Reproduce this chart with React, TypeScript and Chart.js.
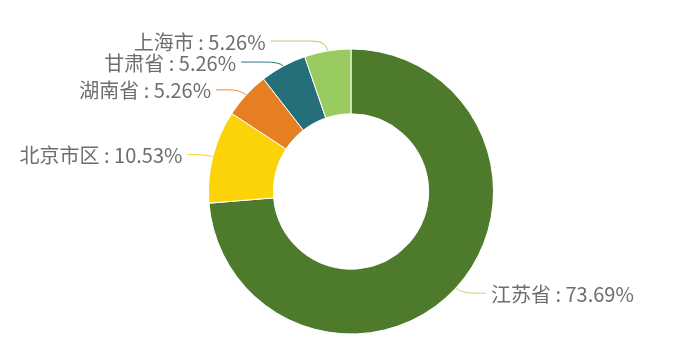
import { useEffect, useRef } from "react";
import { Chart, registerables } from "chart.js";

Chart.register(...registerables);

// Share of records by region (percent)
const regions = ["江苏省", "北京市区", "湖南省", "甘肃省", "上海市"];
const shares = [73.69, 10.53, 5.26, 5.26, 5.26];
const sliceColors = ["#4e7a2c", "#fcd309", "#e67e22", "#246f7a", "#9acb61"];
const leaderColors = ["#c3d77a", "#f6cf2a", "#e9893a", "#2f7682", "#a6d171"];

const LABEL_FONT = '20px "Noto Sans CJK SC", "Noto Sans", sans-serif';
const LABEL_COLOR = "#6e6e6e";

// Draws outside labels with bent leader lines.
const leaderLabels = {
  id: "leaderLabels",
  afterDatasetsDraw(chart: any) {
    const ctx: CanvasRenderingContext2D = chart.ctx;
    const meta = chart.getDatasetMeta(0);
    const items = meta.data.map((arc: any, i: number) => {
      const p = arc.getProps(["x", "y", "startAngle", "endAngle", "outerRadius"], true);
      const mid = (p.startAngle + p.endAngle) / 2;
      const cos = Math.cos(mid);
      const sin = Math.sin(mid);
      const r = p.outerRadius + 0.5;
      return {
        i,
        cx: p.x,
        cy: p.y,
        r,
        cos,
        sin,
        dir: cos >= 0 ? 1 : -1,
        y: p.y + (r + 7) * sin,
      };
    });

    // keep labels on each side from overlapping
    const gap = 21;
    [1, -1].forEach((side) => {
      const list = items.filter((it: any) => it.dir === side).sort((a: any, b: any) => a.y - b.y);
      for (let pass = 0; pass < 20; pass++) {
        for (let k = 1; k < list.length; k++) {
          const diff = list[k].y - list[k - 1].y;
          if (diff < gap) {
            const d = (gap - diff) / 2;
            list[k - 1].y -= d;
            list[k].y += d;
          }
        }
      }
    });

    ctx.save();
    ctx.font = LABEL_FONT;
    ctx.textBaseline = "middle";
    items.forEach((it: any) => {
      const { cx, cy, r, cos, sin, dir } = it;
      // label line ends sit on an ellipse around the ring
      const ea = r + 24.5;
      const eb = r + 28.5;
      const dy = it.y - cy;
      const p0x = cx + r * cos;
      const p0y = cy + r * sin;
      const ex = cx + (r + 8) * cos;
      let endX = cx + dir * ea * Math.sqrt(Math.max(1 - (dy * dy) / (eb * eb), 0));
      if (dir * (endX - ex) < 16) endX = ex + dir * 16;
      const tx = ex + dir * Math.min(14, Math.abs(endX - ex) / 2);

      ctx.beginPath();
      ctx.moveTo(p0x, p0y);
      ctx.quadraticCurveTo(ex, it.y, tx, it.y);
      ctx.lineTo(endX, it.y);
      ctx.strokeStyle = leaderColors[it.i];
      ctx.lineWidth = 1;
      ctx.stroke();

      ctx.fillStyle = LABEL_COLOR;
      ctx.textAlign = dir > 0 ? "left" : "right";
      ctx.fillText(`${regions[it.i]} : ${shares[it.i].toFixed(2)}%`, endX + dir * 5, it.y + 1);
    });
    ctx.restore();
  },
};

export default function App() {
  const canvasRef = useRef<HTMLCanvasElement>(null);

  useEffect(() => {
    if (!canvasRef.current) return;
    const chart = new Chart(canvasRef.current, {
      type: "doughnut",
      data: {
        labels: regions,
        datasets: [
          {
            data: shares,
            backgroundColor: sliceColors,
            borderColor: "#ffffff",
            borderWidth: 1,
          },
        ],
      },
      options: {
        animation: false,
        responsive: true,
        maintainAspectRatio: false,
        cutout: "54.5%",
        layout: { padding: { top: 40.5, bottom: 17.5, left: 3, right: 0 } },
        plugins: {
          legend: { display: false },
          tooltip: { enabled: false },
        },
      },
      plugins: [leaderLabels],
    });
    return () => chart.destroy();
  }, []);

  return (
    <div style={{ width: 683, height: 344, position: "relative" }}>
      <canvas ref={canvasRef} />
    </div>
  );
}
